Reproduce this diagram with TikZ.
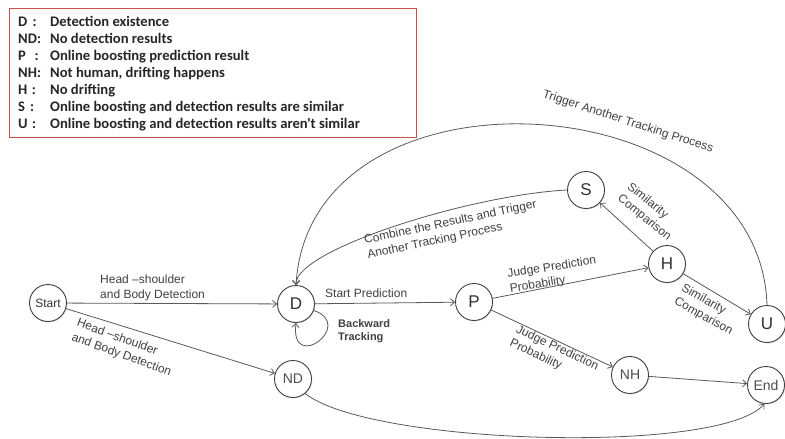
\documentclass[tikz,border=0pt]{standalone}
\usepackage{fontspec}
\setmainfont{Liberation Sans}
\newfontfamily\legendfont{Carlito}
\usetikzlibrary{arrows.meta,shadows}
\definecolor{legendred}{RGB}{205,80,80}
\begin{document}
\begin{tikzpicture}[x=1pt,y=-1pt,
  state/.style={circle, draw=black!75, line width=0.9pt, fill=white, minimum size=37pt, inner sep=0pt, text=black!80, font=\fontsize{17}{17}\selectfont, drop shadow={opacity=0.2,shadow xshift=1pt,shadow yshift=-1pt}},
  smallstate/.style={state, font=\fontsize{14}{14}\selectfont, text=black!70},
  arr/.style={draw=black!65, line width=0.8pt, -{Straight Barb[length=4pt,width=7pt]}},
  lbl/.style={font=\fontsize{12}{15}\selectfont, text=black!75, inner sep=0pt, align=left},
  legline/.style={anchor=base west, inner sep=0pt, font=\legendfont\bfseries\fontsize{14.6}{17}\selectfont, text=black!85},
]
\useasboundingbox (0,0) rectangle (785,439);

% legend
\node[draw=legendred, line width=1.3pt, anchor=north west, minimum width=407pt, minimum height=129pt, inner sep=0pt] (legendbox) at (9,8) {};
\node[legline] (lg1) at (18,26)  {\makebox[32pt][l]{D\hspace{0.35em}:}Detection existence};
\node[legline] (lg2) at (18,43)  {\makebox[32pt][l]{ND:}No detection results};
\node[legline] (lg3) at (18,60)  {\makebox[32pt][l]{P\hspace{0.6em}:}Online boosting prediction result};
\node[legline] (lg4) at (18,77)  {\makebox[32pt][l]{NH:}Not human, drifting happens};
\node[legline] (lg5) at (18,94)  {\makebox[32pt][l]{H\hspace{0.3em}:}No drifting};
\node[legline] (lg6) at (18,111) {\makebox[32pt][l]{S\hspace{0.35em}:}Online boosting and detection results are similar};
\node[legline] (lg7) at (18,128) {\makebox[32pt][l]{U\hspace{0.3em}:}Online boosting and detection results aren't similar};

% states
\node[state, font=\fontsize{12}{12}\selectfont] (start) at (48,303) {Start};
\node[state] (D) at (296,304) {D};
\node[smallstate] (ND) at (293,379) {ND};
\node[state] (P) at (474,302) {P};
\node[state] (H) at (667,264) {H};
\node[state] (S) at (586,190) {S};
\node[state] (U) at (767,324) {U};
\node[smallstate] (NH) at (630,375) {NH};
\node[smallstate] (End) at (766,385) {End};

% connectors
\draw[arr] (start) -- (D);
\draw[arr] (start) -- (ND);
\draw[arr] (D) -- (P);
\draw[arr] (P) -- (H);
\draw[arr] (P) -- (NH);
\draw[arr] (H) -- (S);
\draw[arr] (H) -- (U);
\draw[arr] (NH) -- (End);
\draw[arr] (S.west) .. controls (470,195) and (295,250) .. (D.north);
\draw[arr] (U.north) .. controls (760,80) and (310,55) .. (D.north);
\draw[arr] (D.-20) .. controls (356,325) and (290,374) .. (D.south);
\draw[arr] (ND.-50) .. controls (370,445) and (720,455) .. (End.-95);

% labels
\node[lbl, anchor=west] (l1) at (100,287.5) {Head –shoulder\\and Body Detection};
\node[lbl, rotate=-20] (l2) at (124,348) {Head –shoulder\\and Body Detection};
\node[lbl, anchor=west] (l3) at (325,293) {Start Prediction};
\node[lbl, font=\bfseries\fontsize{11}{13}\selectfont, anchor=west] (l4) at (338,331) {Backward\\Tracking};
\node[lbl, rotate=9] (l5) at (553,275) {Judge Prediction\\Probability};
\node[lbl, rotate=-25] (l6) at (554,355) {Judge Prediction\\Probability};
\node[lbl, rotate=-39] (l7) at (649,212) {Similarity\\Comparison};
\node[lbl, rotate=-29] (l8) at (707,310) {Similarity\\Comparison};
\node[lbl, rotate=12] (l9) at (452,230) {Combine the Results and Trigger\\Another Tracking Process};
\node[lbl, rotate=-18] (l10) at (628,122) {Trigger Another Tracking Process};
\end{tikzpicture}
\end{document}
